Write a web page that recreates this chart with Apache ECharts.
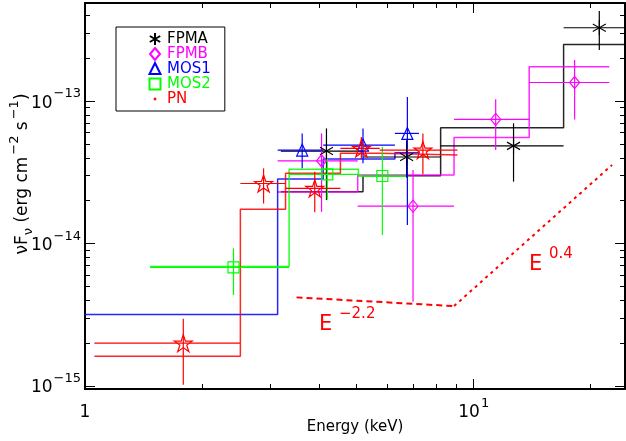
<!DOCTYPE html>
<html><head><meta charset="utf-8">
<script src="https://cdn.jsdelivr.net/npm/echarts@6/dist/echarts.min.js"></script>
<style>html,body{margin:0;padding:0;background:#fff}#c{width:626px;height:441px}</style>
</head><body><div id="c"></div>
<script>
// ---------- data ----------
// FPMA (black asterisks)
const fpmaE   = [4.18, 6.72, 12.66, 21.04];
const fpmaElo = [3.19, 5.19, 8.22, 17.03];
const fpmaEhi = [5.19, 8.22, 17.03, 24.5];
const fpmaF   = [4.46e-14, 4.05e-14, 4.85e-14, 3.27e-13];
const fpmaFlo = [2.02e-14, 2.90e-14, 2.72e-14, 2.28e-13];
const fpmaFhi = [6.43e-14, 5.30e-14, 6.98e-14, 4.28e-13];
const fpmaEdges = [3.19, 5.19, 8.22, 17.03, 24.5];
const fpmaModel = [2.31e-14, 2.99e-14, 6.50e-14, 2.50e-13];
// FPMB (magenta diamonds)
const fpmbE   = [4.06, 6.98, 11.39, 18.18];
const fpmbElo = [3.13, 5.03, 8.90, 13.89];
const fpmbEhi = [5.03, 8.90, 13.89, 22.32];
const fpmbF   = [3.81e-14, 1.83e-14, 7.44e-14, 1.35e-13];
const fpmbFlo = [1.67e-14, 3.91e-15, 4.53e-14, 7.44e-14];
const fpmbFhi = [5.93e-14, 3.28e-14, 1.03e-13, 1.94e-13];
const fpmbEdges = [3.13, 5.03, 8.90, 13.89, 22.32];
const fpmbModel = [2.30e-14, 3.03e-14, 5.56e-14, 1.74e-13];
// MOS1 (blue triangles)
const mos1E   = [3.62, 5.19, 6.75];
const mos1Elo = [3.13, 4.10, 6.27];
const mos1Ehi = [4.10, 6.27, 7.23];
const mos1F   = [4.53e-14, 4.91e-14, 5.93e-14];
const mos1Flo = [3.38e-14, 3.66e-14, 1.35e-14];
const mos1Fhi = [5.93e-14, 6.43e-14, 1.07e-13];
const mos1Edges = [0.9, 3.13, 4.10, 6.27, 7.23];
const mos1Model = [3.18e-15, 2.84e-14, 3.92e-14, 4.34e-14];
// MOS2 (green squares)
const mos2E   = [2.41, 4.20, 5.82];
const mos2Elo = [1.47, 3.35, 5.05];
const mos2Ehi = [3.35, 5.05, 6.70];
const mos2F   = [6.81e-15, 3.06e-14, 2.98e-14];
const mos2Flo = [4.35e-15, 2.04e-14, 1.15e-14];
const mos2Fhi = [9.25e-15, 3.96e-14, 4.78e-14];
const mos2Edges = [1.47, 3.35, 5.05, 6.70];
const mos2Model = [6.90e-15, 3.32e-14, 2.98e-14];
// PN (red stars)
const pnE   = [1.79, 2.88, 3.90, 5.14, 7.40];
const pnElo = [1.057, 2.51, 3.28, 4.54, 5.73];
const pnEhi = [2.51, 3.28, 4.54, 5.73, 9.08];
const pnF   = [2.00e-15, 2.64e-14, 2.44e-14, 4.66e-14, 4.53e-14];
const pnFlo = [1.02e-15, 1.91e-14, 1.66e-14, 3.90e-14, 3.07e-14];
const pnFhi = [2.97e-15, 3.37e-14, 3.19e-14, 5.60e-14, 5.93e-14];
const pnEdges = [1.057, 2.51, 3.28, 4.54, 5.73, 9.08];
const pnModel = [1.62e-15, 1.74e-14, 3.11e-14, 4.30e-14, 4.18e-14];
// broken power-law sketch
const plSteepE = [3.50, 8.90];
const plSteepF = [4.19e-15, 3.64e-15];
const plHardE  = [8.90, 22.69];
const plHardF  = [3.64e-15, 3.56e-14];
// axis ranges
const xMin = 1, xMax = 24.5;
const yMin = 9.53e-16, yMax = 4.88e-13;

// ---------- helpers ----------
const FONT = 'DejaVu Sans';
function zip(a, b) { return a.map((v, i) => [v, b[i]]); }
function errRows(E, F, Elo, Ehi, Flo, Fhi) { return E.map((e, i) => [e, F[i], Elo[i], Ehi[i], Flo[i], Fhi[i]]); }
function stepPts(edges, model) {
  const p = [];
  model.forEach((m, i) => { p.push([edges[i], m]); p.push([edges[i + 1], m]); });
  return p;
}
function errRender(color) {
  return function (params, api) {
    const l = api.coord([api.value(2), api.value(1)]);
    const r = api.coord([api.value(3), api.value(1)]);
    const t = api.coord([api.value(0), api.value(5)]);
    const b = api.coord([api.value(0), api.value(4)]);
    return { type: 'group', children: [
      { type: 'line', shape: { x1: l[0], y1: l[1], x2: r[0], y2: r[1] }, style: { stroke: color, lineWidth: 1.2 } },
      { type: 'line', shape: { x1: t[0], y1: t[1], x2: b[0], y2: b[1] }, style: { stroke: color, lineWidth: 1.2 } }
    ] };
  };
}
const STAR = 'path://M0,-10L2.245,-3.09L9.511,-3.09L3.633,1.18L5.878,8.09L0,3.82L-5.878,8.09L-3.633,1.18L-9.511,-3.09L-2.245,-3.09Z';
const ASTER = 'path://M0,-10L0,10M-8.66,-5L8.66,5M-8.66,5L8.66,-5';

const inst = [
  { name: 'FPMA', color: '#000000', sym: ASTER, size: [13, 15], E: fpmaE, Elo: fpmaElo, Ehi: fpmaEhi, F: fpmaF, Flo: fpmaFlo, Fhi: fpmaFhi, edges: fpmaEdges, model: fpmaModel,
    icon: 'path://M-7,-7M7,7M0,-6L0,6M-5.2,-3L5.2,3M-5.2,3L5.2,-3' },
  { name: 'FPMB', color: '#ff00ff', sym: 'diamond', size: [10, 12], E: fpmbE, Elo: fpmbElo, Ehi: fpmbEhi, F: fpmbF, Flo: fpmbFlo, Fhi: fpmbFhi, edges: fpmbEdges, model: fpmbModel,
    icon: 'path://M-7,-7M7,7M0,-6L5,0L0,6L-5,0Z' },
  { name: 'MOS1', color: '#0000ff', sym: 'triangle', size: [11, 12], E: mos1E, Elo: mos1Elo, Ehi: mos1Ehi, F: mos1F, Flo: mos1Flo, Fhi: mos1Fhi, edges: mos1Edges, model: mos1Model,
    icon: 'path://M-7,-7M7,7M0,-6L5.5,5L-5.5,5Z' },
  { name: 'MOS2', color: '#00ff00', sym: 'rect', size: [11, 11], E: mos2E, Elo: mos2Elo, Ehi: mos2Ehi, F: mos2F, Flo: mos2Flo, Fhi: mos2Fhi, edges: mos2Edges, model: mos2Model,
    icon: 'path://M-7,-7M7,7M-5.5,-5.5H5.5V5.5H-5.5Z' },
  { name: 'PN', color: '#ff0000', sym: STAR, size: [18, 17], E: pnE, Elo: pnElo, Ehi: pnEhi, F: pnF, Flo: pnFlo, Fhi: pnFhi, edges: pnEdges, model: pnModel,
    icon: 'path://M-7,-7M7,7M-0.25,-0.25H0.25V0.25H-0.25Z' }
];

const series = [];
inst.forEach(d => series.push({
  name: d.name + ' model', type: 'line', data: stepPts(d.edges, d.model), showSymbol: false, symbol: 'none',
  lineStyle: { color: d.color, width: 1.5, opacity: 0.85 }, itemStyle: { color: d.color }, silent: true, z: 2, animation: false
}));
inst.forEach(d => series.push({
  name: d.name + ' err', type: 'custom', data: errRows(d.E, d.F, d.Elo, d.Ehi, d.Flo, d.Fhi),
  renderItem: errRender(d.color), silent: true, z: 3, animation: false
}));
inst.forEach(d => series.push({
  name: d.name, type: 'scatter', data: zip(d.E, d.F), symbol: d.sym, symbolSize: d.size,
  itemStyle: { color: 'rgba(0,0,0,0)', borderColor: d.color, borderWidth: 1.2, opacity: 1 }, z: 4, animation: false, silent: true
}));
series.push({ name: 'steep', type: 'line', data: zip(plSteepE, plSteepF), showSymbol: false, symbol: 'none',
  lineStyle: { color: '#ff0000', width: 2, type: [6, 4] }, z: 5, animation: false, silent: true });
series.push({ name: 'hard', type: 'line', data: zip(plHardE, plHardF), showSymbol: false, symbol: 'none',
  lineStyle: { color: '#ff0000', width: 2, type: [3, 4] }, z: 5, animation: false, silent: true });

function isPow(v) { const l = Math.log10(v); return Math.abs(l - Math.round(l)) < 1e-6; }
const richLab = {
  a: { fontSize: 17, lineHeight: 17, verticalAlign: 'bottom', fontFamily: FONT, color: '#000' },
  s: { fontSize: 13, lineHeight: 13, verticalAlign: 'bottom', padding: [0, 0, 11, 1], fontFamily: FONT, color: '#000' },
  z: { fontSize: 13, lineHeight: 13, verticalAlign: 'bottom', padding: [0, 0, 11, 0], width: 0, fontFamily: FONT }
};
const tickStyle = {
  axisTick: { show: true, inside: true, length: 10, lineStyle: { color: '#000', width: 1 } },
  minorTick: { show: true, splitNumber: 9, length: 5, lineStyle: { color: '#000', width: 1 } },
  splitLine: { show: false }, minorSplitLine: { show: false }
};
const axLine = { show: true, onZero: false, lineStyle: { color: '#000', width: 2 } };

const option = {
  backgroundColor: '#fff',
  animation: false,
  grid: { left: 85, right: 1, top: 3, bottom: 52, containLabel: false, outerBoundsMode: 'none' },
  xAxis: [
    Object.assign({ type: 'log', logBase: 10, min: xMin, max: xMax, position: 'bottom', axisLine: axLine,
      axisLabel: { margin: 15, rich: richLab, formatter: v => {
        if (!isPow(v)) return ''; const n = Math.round(Math.log10(v));
        return n === 0 ? '{a|1}{z| }' : '{a|10}{s|' + n + '}'; } },
      name: 'Energy (keV)', nameLocation: 'middle', nameGap: 31, nameMoveOverlap: false,
      nameTextStyle: { fontFamily: FONT, fontSize: 15, color: '#000' } }, tickStyle),
    Object.assign({ type: 'log', logBase: 10, min: xMin, max: xMax, position: 'top', axisLine: axLine,
      axisLabel: { show: false } }, tickStyle)
  ],
  yAxis: [
    Object.assign({ type: 'log', logBase: 10, min: yMin, max: yMax, position: 'left', axisLine: axLine,
      axisLabel: { margin: 4, padding: [4, 0, 0, 0], rich: richLab, formatter: v => {
        if (!isPow(v)) return ''; const n = Math.round(Math.log10(v));
        return '{a|10}{s|\u2212' + Math.abs(n) + '}'; } } }, tickStyle),
    Object.assign({ type: 'log', logBase: 10, min: yMin, max: yMax, position: 'right', axisLine: axLine,
      axisLabel: { show: false } }, tickStyle)
  ],
  legend: {
    orient: 'vertical', left: 116, top: 27, padding: [4, 14, 4, 31], itemGap: -1, itemWidth: 14, itemHeight: 14,
    borderColor: '#000', borderWidth: 1, borderRadius: 0, selectedMode: false,
    textStyle: { fontSize: 15, fontFamily: FONT, lineHeight: 14 },
    data: inst.map(d => ({ name: d.name, icon: d.icon, textStyle: { color: d.color } }))
  },
  graphic: [
    { type: 'text', x: 27, y: 174, rotation: Math.PI / 2, style: {
      text: '{m|\u03bdF}{b|\u03bd}{m| (erg cm}{p|\u22122}{m| s}{p|\u22121}{m|)}', align: 'center', verticalAlign: 'middle',
      rich: {
        m: { fontSize: 17, lineHeight: 17, padding: [0, 0, 4, 0], verticalAlign: 'bottom', fontFamily: FONT, fill: '#000' },
        b: { fontSize: 13, lineHeight: 13, padding: [0, 0, 0, 0], verticalAlign: 'bottom', fontFamily: FONT, fill: '#000' },
        p: { fontSize: 13, lineHeight: 13, padding: [0, 0, 14, 2], verticalAlign: 'bottom', fontFamily: FONT, fill: '#000' }
      } } },
    { type: 'text', x: 319, y: 325, style: { text: 'E', fontSize: 21, fontFamily: FONT, fill: '#ff0000', verticalAlign: 'middle' } },
    { type: 'text', x: 339, y: 314, style: { text: '\u22122.2', fontSize: 15, fontFamily: FONT, fill: '#ff0000', verticalAlign: 'middle' } },
    { type: 'text', x: 529, y: 265, style: { text: 'E', fontSize: 21, fontFamily: FONT, fill: '#ff0000', verticalAlign: 'middle' } },
    { type: 'text', x: 549, y: 254, style: { text: '0.4', fontSize: 15, fontFamily: FONT, fill: '#ff0000', verticalAlign: 'middle' } }
  ],
  series: series
};
const chart = echarts.init(document.getElementById('c'), null, { renderer: 'canvas' });
chart.setOption(option);
</script></body></html>
